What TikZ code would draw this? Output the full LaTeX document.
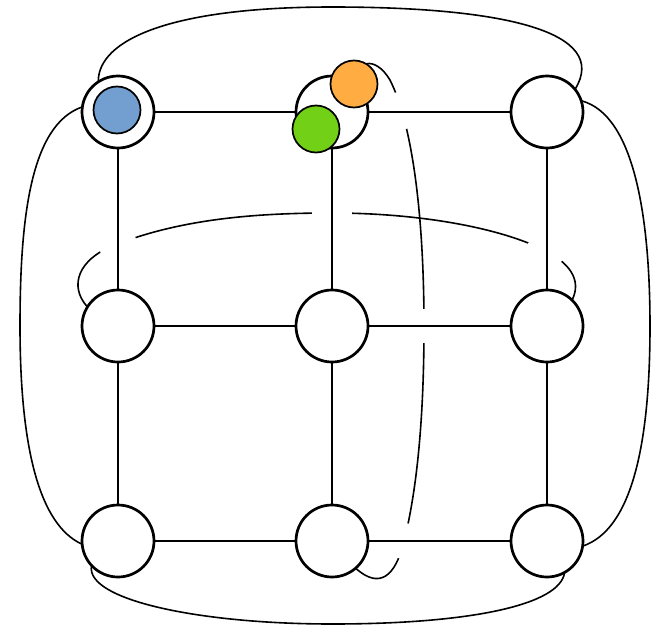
\documentclass[tikz,border=0pt]{standalone}
\begin{document}
\begin{tikzpicture}[x=1pt,y=-1pt,
  vtx/.style={circle,draw,fill=white,line width=2.7pt,minimum size=72pt,inner sep=0pt},
  tok/.style={circle,draw,line width=1.7pt,minimum size=47pt,inner sep=0pt},
  edge/.style={line width=1.7pt},
  wire/.style={line width=1.6pt},
  gap/.style={fill=white,draw=none}]
\useasboundingbox (0,0) rectangle (667,629);
\definecolor{tokblue}{RGB}{114,159,207}
\definecolor{tokorange}{RGB}{255,173,66}
\definecolor{tokgreen}{RGB}{114,209,22}
% vertex positions
\coordinate (pA) at (118,112); \coordinate (pB) at (332,112); \coordinate (pC) at (547,112);
\coordinate (pD) at (118,326); \coordinate (pE) at (332,326); \coordinate (pF) at (547,326);
\coordinate (pG) at (118,541); \coordinate (pH) at (332,541); \coordinate (pI) at (547,541);
% invisible anchors for curve ends
\foreach \n in {A,B,C,D,E,F,G,H,I}{\node[circle,minimum size=72pt,inner sep=0pt] (\n) at (p\n) {};}
% outer curves
\draw[wire] (A.123) .. controls (98,40) and (170,7) .. (332,7) .. controls (505,7) and (610,32) .. (C.39);
\draw[wire] (A.172) .. controls (30,125) and (20,220) .. (20,326) .. controls (20,450) and (40,525) .. (G.185);
\draw[wire] (C.18) .. controls (635,115) and (650,220) .. (650,326) .. controls (650,450) and (630,530) .. (I.-8);
\draw[wire] (G.223) .. controls (85,600) and (200,624) .. (332,624) .. controls (470,624) and (560,605) .. (I.-61);
% inner crossing curves
\draw[wire] (D.148) .. controls (68,285) and (80,260) .. (110,247) .. controls (180,218) and (260,213) .. (332,213) .. controls (410,213) and (490,225) .. (540,248) .. controls (570,262) and (582,280) .. (F.46);
\draw[wire] (B.50) .. controls (355,60) and (375,55) .. (390,80) .. controls (415,130) and (424,230) .. (424,326) .. controls (424,430) and (415,500) .. (403,545) .. controls (395,575) and (380,590) .. (H.-49);
% gaps where curves pass under edges
\fill[gap] (118,245) circle (19);
\fill[gap] (332,214) circle (20);
\fill[gap] (545,252) circle (19);
\fill[gap] (400,111) circle (19);
\fill[gap] (423,326) circle (17);
\fill[gap] (404,541) circle (18);
% grid edges
\draw[edge] (A) -- (B); \draw[edge] (B) -- (C);
\draw[edge] (D) -- (E); \draw[edge] (E) -- (F);
\draw[edge] (G) -- (H); \draw[edge] (H) -- (I);
\draw[edge] (A) -- (D); \draw[edge] (D) -- (G);
\draw[edge] (B) -- (E); \draw[edge] (E) -- (H);
\draw[edge] (C) -- (F); \draw[edge] (F) -- (I);
% vertices
\foreach \n in {A,B,C,D,E,F,G,H,I}{\node[vtx] (v\n) at (p\n) {};}
% tokens
\node[tok,fill=tokblue] (t1) at (117,110) {};
\node[tok,fill=tokorange] (t2) at (354,84) {};
\node[tok,fill=tokgreen] (t3) at (316,129) {};
\end{tikzpicture}
\end{document}
